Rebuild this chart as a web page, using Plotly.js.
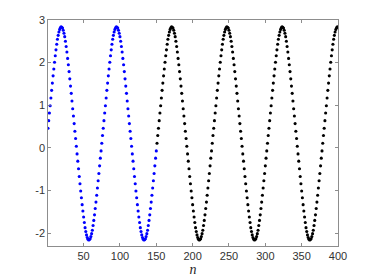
<!DOCTYPE html>
<html>
<head>
<meta charset="utf-8">
<script src="https://cdn.plot.ly/plotly-3.0.1.min.js"></script>
<style>html,body{margin:0;padding:0;background:#fff;}#chart{width:374px;height:280px;}</style>
</head>
<body>
<div id="chart"></div>
<script>
// values: first 150 samples (blue), remaining 250 samples (black)
const blueY = [
0.46,0.64,0.82,0.99,1.17,1.35,1.52,1.69,1.85,2.01,2.16,2.3,2.43,2.55,2.64,2.72,2.78,2.82,2.84,2.83,2.81,2.76,2.69,2.61,2.5,2.38,2.25,2.1,1.95,1.79,1.62,1.45,1.28,1.1,0.92,0.75,0.57,0.39,
0.22,0.04,-0.14,-0.31,-0.49,-0.67,-0.84,-1.01,-1.17,-1.33,-1.48,-1.62,-1.75,-1.87,-1.96,-2.04,-2.1,-2.14,-2.16,-2.15,-2.13,-2.08,-2.01,-1.93,-1.82,-1.7,-1.57,-1.42,-1.27,-1.11,-0.94,-0.77,-0.6,-0.42,-0.24,-0.07,0.11,0.29,
0.46,0.64,0.82,0.99,1.17,1.35,1.52,1.69,1.85,2.01,2.16,2.3,2.43,2.55,2.64,2.72,2.78,2.82,2.84,2.83,2.81,2.76,2.69,2.61,2.5,2.38,2.25,2.1,1.95,1.79,1.62,1.45,1.28,1.1,0.92,0.75,0.57,0.39,
0.22,0.04,-0.14,-0.31,-0.49,-0.67,-0.84,-1.01,-1.17,-1.33,-1.48,-1.62,-1.75,-1.87,-1.96,-2.04,-2.1,-2.14,-2.16,-2.15,-2.13,-2.08,-2.01,-1.93,-1.82,-1.7,-1.57,-1.42,-1.27,-1.11,-0.94,-0.77,-0.6,-0.42,-0.24,-0.07
];
const blackY = [
0.11,0.29,
0.46,0.64,0.82,0.99,1.17,1.35,1.52,1.69,1.85,2.01,2.16,2.3,2.43,2.55,2.64,2.72,2.78,2.82,2.84,2.83,2.81,2.76,2.69,2.61,2.5,2.38,2.25,2.1,1.95,1.79,1.62,1.45,1.28,1.1,0.92,0.75,0.57,0.39,
0.22,0.04,-0.14,-0.31,-0.49,-0.67,-0.84,-1.01,-1.17,-1.33,-1.48,-1.62,-1.75,-1.87,-1.96,-2.04,-2.1,-2.14,-2.16,-2.15,-2.13,-2.08,-2.01,-1.93,-1.82,-1.7,-1.57,-1.42,-1.27,-1.11,-0.94,-0.77,-0.6,-0.42,-0.24,-0.07,0.11,0.29,
0.46,0.64,0.82,0.99,1.17,1.35,1.52,1.69,1.85,2.01,2.16,2.3,2.43,2.55,2.64,2.72,2.78,2.82,2.84,2.83,2.81,2.76,2.69,2.61,2.5,2.38,2.25,2.1,1.95,1.79,1.62,1.45,1.28,1.1,0.92,0.75,0.57,0.39,
0.22,0.04,-0.14,-0.31,-0.49,-0.67,-0.84,-1.01,-1.17,-1.33,-1.48,-1.62,-1.75,-1.87,-1.96,-2.04,-2.1,-2.14,-2.16,-2.15,-2.13,-2.08,-2.01,-1.93,-1.82,-1.7,-1.57,-1.42,-1.27,-1.11,-0.94,-0.77,-0.6,-0.42,-0.24,-0.07,0.11,0.29,
0.46,0.64,0.82,0.99,1.17,1.35,1.52,1.69,1.85,2.01,2.16,2.3,2.43,2.55,2.64,2.72,2.78,2.82,2.84,2.83,2.81,2.76,2.69,2.61,2.5,2.38,2.25,2.1,1.95,1.79,1.62,1.45,1.28,1.1,0.92,0.75,0.57,0.39,
0.22,0.04,-0.14,-0.31,-0.49,-0.67,-0.84,-1.01,-1.17,-1.33,-1.48,-1.62,-1.75,-1.87,-1.96,-2.04,-2.1,-2.14,-2.16,-2.15,-2.13,-2.08,-2.01,-1.93,-1.82,-1.7,-1.57,-1.42,-1.27,-1.11,-0.94,-0.77,-0.6,-0.42,-0.24,-0.07,0.11,0.29,
0.46,0.64,0.82,0.99,1.17,1.35,1.52,1.69,1.85,2.01,2.16,2.3,2.43,2.55,2.64,2.72,2.78,2.82,2.84,2.83
];
const xTickVals = [50,100,150,200,250,300,350,400];
const xTickText = ['50','100','150','200','250','300','350','400'];
const yTickVals = [-2,-1,0,1,2,3];
const yTickText = ['-2','-1','0','1','2','3'];

const blueN = blueY.map((v, i) => i + 1);
const blackN = blackY.map((v, i) => i + 1 + blueY.length);

const axisCommon = {
  showgrid: false, zeroline: false, showline: true, mirror: 'ticks',
  linecolor: '#707070', linewidth: 0.8, ticks: 'inside', ticklen: 3,
  tickcolor: '#707070', tickwidth: 0.8,
  tickfont: {family: 'Liberation Sans, Arial, sans-serif', size: 11, color: '#333333'},
  automargin: false
};

const traces = [
  {x: blueN, y: blueY, type: 'scatter', mode: 'markers',
   marker: {color: '#0000ff', size: 3.1}, hoverinfo: 'skip'},
  {x: blackN, y: blackY, type: 'scatter', mode: 'markers',
   marker: {color: '#000000', size: 3.1}, hoverinfo: 'skip'}
];

const layout = {
  width: 374, height: 280,
  margin: {l: 48, r: 36, t: 20, b: 34, pad: 0},
  paper_bgcolor: '#ffffff', plot_bgcolor: '#ffffff',
  showlegend: false,
  xaxis: Object.assign({}, axisCommon, {
    range: [1, 400], tickmode: 'array', tickvals: xTickVals, ticktext: xTickText,
    title: {text: '<i>n</i>', font: {family: 'Liberation Serif, DejaVu Serif, serif', size: 14, color: '#262626'}, standoff: 2}
  }),
  yaxis: Object.assign({}, axisCommon, {
    range: [-2.3, 3], tickmode: 'array', tickvals: yTickVals, ticktext: yTickText
  })
};

Plotly.newPlot('chart', traces, layout, {staticPlot: true, displayModeBar: false});
</script>
</body>
</html>
